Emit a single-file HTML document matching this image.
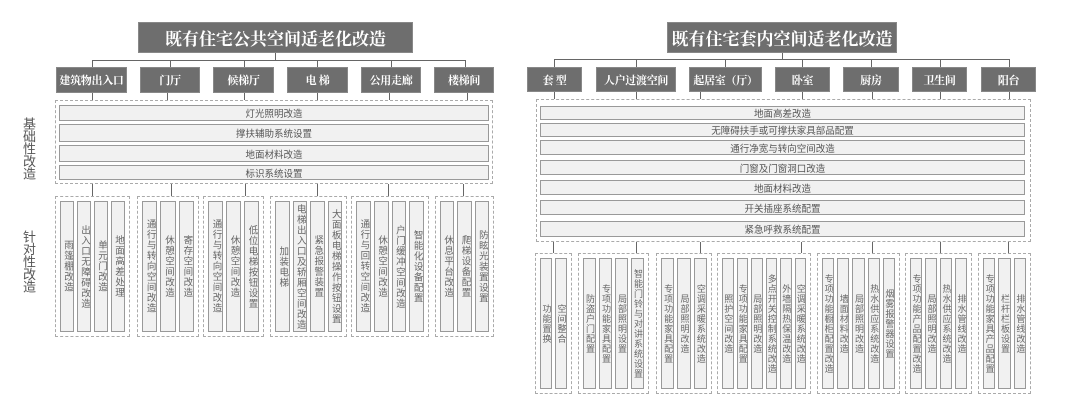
<!DOCTYPE html>
<html><head><meta charset="utf-8"><style>
*{margin:0;padding:0;box-sizing:border-box}
body{width:1080px;height:409px;background:#fff;position:relative;overflow:hidden;font-family:"Liberation Sans","Noto Sans CJK SC",sans-serif}
.t{position:absolute;background:#6e6e6e;color:#fff;font-family:"Liberation Serif","Noto Serif CJK SC",serif;font-weight:bold;display:flex;align-items:center;justify-content:center;border:1px solid #888;white-space:nowrap;overflow:hidden}
.tt{font-size:17px}
.c{font-size:11px;letter-spacing:-0.3px}
.l{position:absolute;background:#666}
.d{position:absolute;border:1px dashed #aaa}
.r{position:absolute;border:1.5px solid #999;background:#f1f1f1;color:#555;font-size:9.5px;display:flex;align-items:center;justify-content:center;white-space:nowrap}
.g{position:absolute;border:1px dashed #aaa;display:flex;gap:3px;padding:4px}
.g>div{flex:1;min-width:0;border:1.5px solid #999;background:#f1f1f1;display:flex;align-items:center;justify-content:center;color:#666;overflow:visible}
.g>div>span{display:block;writing-mode:vertical-rl;text-orientation:upright;font-size:9.5px;line-height:10px;white-space:nowrap;width:10px;letter-spacing:1px}
.gr>div>span{font-size:9px;line-height:9px;width:9px;letter-spacing:1px}
.side{position:absolute;writing-mode:vertical-rl;font-size:13px;line-height:13px;color:#555;letter-spacing:-0.5px}
</style></head><body>

<!-- LEFT -->
<div class="t tt" style="left:138px;top:22px;width:275px;height:31px">既有住宅公共空间适老化改造</div>
<div class="l" style="left:275px;top:53px;width:1px;height:8px"></div>
<div class="l" style="left:92px;top:60px;width:374px;height:1px"></div>
<div class="l" style="left:92px;top:60px;width:1px;height:7px"></div>
<div class="l" style="left:170px;top:60px;width:1px;height:7px"></div>
<div class="l" style="left:244px;top:60px;width:1px;height:7px"></div>
<div class="l" style="left:317px;top:60px;width:1px;height:7px"></div>
<div class="l" style="left:391px;top:60px;width:1px;height:7px"></div>
<div class="l" style="left:465px;top:60px;width:1px;height:7px"></div>
<div class="t c" style="left:56px;top:67px;width:71px;height:26px">建筑物出入口</div>
<div class="t c" style="left:140px;top:67px;width:60px;height:26px">门厅</div>
<div class="t c" style="left:213px;top:67px;width:61px;height:26px">候梯厅</div>
<div class="t c" style="left:287px;top:67px;width:61px;height:26px">电&nbsp;梯</div>
<div class="t c" style="left:361px;top:67px;width:60px;height:26px">公用走廊</div>
<div class="t c" style="left:434px;top:67px;width:60px;height:26px">楼梯间</div>
<div class="l" style="left:92px;top:93px;width:1px;height:7px"></div>
<div class="l" style="left:167px;top:93px;width:1px;height:7px"></div>
<div class="l" style="left:244px;top:93px;width:1px;height:7px"></div>
<div class="l" style="left:317px;top:93px;width:1px;height:7px"></div>
<div class="l" style="left:389px;top:93px;width:1px;height:7px"></div>
<div class="l" style="left:467px;top:93px;width:1px;height:7px"></div>

<div class="d" style="left:55px;top:100px;width:438px;height:84px"></div>
<div class="r" style="left:59px;top:105px;width:430px;height:16px">灯光照明改造</div>
<div class="r" style="left:59px;top:124px;width:430px;height:18px">撑扶辅助系统设置</div>
<div class="r" style="left:59px;top:145px;width:430px;height:17px">地面材料改造</div>
<div class="r" style="left:59px;top:165px;width:430px;height:15px">标识系统设置</div>
<div class="side" style="left:22px;top:117px">基础性改造</div>
<div class="side" style="left:22px;top:230px">针对性改造</div>

<div class="l" style="left:92px;top:184px;width:1px;height:12px"></div>
<div class="l" style="left:171px;top:184px;width:1px;height:12px"></div>
<div class="l" style="left:245px;top:184px;width:1px;height:12px"></div>
<div class="l" style="left:317px;top:184px;width:1px;height:12px"></div>
<div class="l" style="left:388px;top:184px;width:1px;height:12px"></div>
<div class="l" style="left:463px;top:184px;width:1px;height:12px"></div>

<div class="g" style="left:55px;top:196px;width:75px;height:141px"><div><span>雨篷棚改造</span></div><div><span>出入口无障碍改造</span></div><div><span>单元门改造</span></div><div><span>地面高差处理</span></div></div>
<div class="g" style="left:137px;top:196px;width:62px;height:141px"><div><span>通行与转向空间改造</span></div><div><span>休憩空间改造</span></div><div><span>寄存空间改造</span></div></div>
<div class="g" style="left:203px;top:196px;width:61px;height:141px"><div><span>通行与转向空间改造</span></div><div><span>休憩空间改造</span></div><div><span>低位电梯按钮设置</span></div></div>
<div class="g" style="left:270px;top:196px;width:77px;height:141px"><div><span>加装电梯</span></div><div><span>电梯出入口及轿厢空间改造</span></div><div><span>紧急报警装置</span></div><div><span>大面板电梯操作按钮设置</span></div></div>
<div class="g" style="left:351px;top:196px;width:78px;height:141px"><div><span>通行与回转空间改造</span></div><div><span>休憩空间改造</span></div><div><span>户门缓冲空间改造</span></div><div><span>智能化设备配置</span></div></div>
<div class="g" style="left:435px;top:196px;width:59px;height:141px"><div><span>休息平台改造</span></div><div><span>爬梯设备配置</span></div><div><span>防眩光装置设置</span></div></div>

<!-- RIGHT -->
<div class="t tt" style="left:667px;top:22px;width:230px;height:31px">既有住宅套内空间适老化改造</div>
<div class="l" style="left:782px;top:53px;width:1px;height:6px"></div>
<div class="l" style="left:554px;top:59px;width:456px;height:1px"></div>
<div class="l" style="left:554px;top:59px;width:1px;height:8px"></div>
<div class="l" style="left:636px;top:59px;width:1px;height:8px"></div>
<div class="l" style="left:725px;top:59px;width:1px;height:8px"></div>
<div class="l" style="left:802px;top:59px;width:1px;height:8px"></div>
<div class="l" style="left:871px;top:59px;width:1px;height:8px"></div>
<div class="l" style="left:940px;top:59px;width:1px;height:8px"></div>
<div class="l" style="left:1009px;top:59px;width:1px;height:8px"></div>
<div class="t c" style="left:527px;top:67px;width:55px;height:25px">套&nbsp;型</div>
<div class="t c" style="left:596px;top:67px;width:80px;height:25px">人户过渡空间</div>
<div class="t c" style="left:689px;top:67px;width:73px;height:25px">起居室（厅）</div>
<div class="t c" style="left:775px;top:67px;width:55px;height:25px">卧室</div>
<div class="t c" style="left:843px;top:67px;width:56px;height:25px">厨房</div>
<div class="t c" style="left:912px;top:67px;width:55px;height:25px">卫生间</div>
<div class="t c" style="left:981px;top:67px;width:55px;height:25px">阳台</div>
<div class="l" style="left:554px;top:92px;width:1px;height:7px"></div>
<div class="l" style="left:636px;top:92px;width:1px;height:7px"></div>
<div class="l" style="left:700px;top:92px;width:1px;height:7px"></div>
<div class="l" style="left:802px;top:92px;width:1px;height:7px"></div>
<div class="l" style="left:872px;top:92px;width:1px;height:7px"></div>
<div class="l" style="left:940px;top:92px;width:1px;height:7px"></div>
<div class="l" style="left:1009px;top:92px;width:1px;height:7px"></div>

<div class="d" style="left:536px;top:99px;width:495px;height:143px"></div>
<div class="r" style="left:540px;top:106px;width:485px;height:14px">地面高差改造</div>
<div class="r" style="left:540px;top:123px;width:485px;height:14px">无障碍扶手或可撑扶家具部品配置</div>
<div class="r" style="left:540px;top:140px;width:485px;height:15px">通行净宽与转向空间改造</div>
<div class="r" style="left:540px;top:160px;width:485px;height:15px">门窗及门窗洞口改造</div>
<div class="r" style="left:540px;top:180px;width:485px;height:15px">地面材料改造</div>
<div class="r" style="left:540px;top:200px;width:485px;height:15px">开关插座系统配置</div>
<div class="r" style="left:540px;top:221px;width:485px;height:16px">紧急呼救系统配置</div>

<div class="l" style="left:553px;top:242px;width:1px;height:11px"></div>
<div class="l" style="left:636px;top:242px;width:1px;height:11px"></div>
<div class="l" style="left:700px;top:242px;width:1px;height:11px"></div>
<div class="l" style="left:801px;top:242px;width:1px;height:11px"></div>
<div class="l" style="left:872px;top:242px;width:1px;height:11px"></div>
<div class="l" style="left:940px;top:242px;width:1px;height:11px"></div>
<div class="l" style="left:1008px;top:242px;width:1px;height:11px"></div>

<div class="g gr" style="left:535px;top:253px;width:37px;height:141px"><div><span>功能置换</span></div><div><span>空间整合</span></div></div>
<div class="g gr" style="left:578px;top:253px;width:71px;height:141px"><div><span>防盗户门配置</span></div><div><span>专项功能家具配置</span></div><div><span>局部照明设置</span></div><div><span>智能门铃与对讲系统设置</span></div></div>
<div class="g gr" style="left:656px;top:253px;width:56px;height:141px"><div><span>专项功能家具配置</span></div><div><span>局部照明改造</span></div><div><span>空调采暖系统改造</span></div></div>
<div class="g gr" style="left:717px;top:253px;width:94px;height:141px"><div><span>照护空间改造</span></div><div><span>专项功能家具配置</span></div><div><span>局部照明改造</span></div><div><span>多点开关控制系统改造</span></div><div><span>外墙隔热保温改造</span></div><div><span>空调采暖系统改造</span></div></div>
<div class="g gr" style="left:817px;top:253px;width:83px;height:141px"><div><span>专项功能橱柜配置改造</span></div><div><span>墙面材料改造</span></div><div><span>局部照明改造</span></div><div><span>热水供应系统改造</span></div><div><span>烟雾报警器设置</span></div></div>
<div class="g gr" style="left:905px;top:253px;width:67px;height:141px"><div><span>专项功能产品配置改造</span></div><div><span>局部照明改造</span></div><div><span>热水供应系统改造</span></div><div><span>排水管线改造</span></div></div>
<div class="g gr" style="left:978px;top:253px;width:53px;height:141px"><div><span>专项功能家具产品配置</span></div><div><span>栏杆栏板设置</span></div><div><span>排水管线改造</span></div></div>
</body></html>
